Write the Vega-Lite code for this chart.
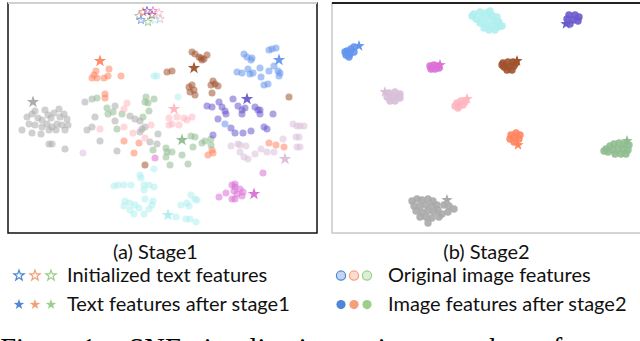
{
"$schema": "https://vega.github.io/schema/vega-lite/v6.json",
"padding": {"left": 0, "top": 1, "right": 0, "bottom": 0},
"background": "white",
"config": {"font": "Lato", "view": {"stroke": "#111", "strokeWidth": 1.5}},
"title": {"text": "Figure 1: t-SNE visualization on image and text features", "orient": "bottom", "anchor": "start", "font": "Liberation Serif", "fontSize": 28.5, "fontWeight": "normal", "color": "#000", "offset": 11, "dx": -6},
"datasets": {
"a": [
{"x":25,"y":115,"c":"gray","k":"img"},{"x":30,"y":112,"c":"gray","k":"img"},{"x":33,"y":109,"c":"gray","k":"img"},{"x":36,"y":116,"c":"gray","k":"img"},{"x":40,"y":118,"c":"gray","k":"img"},{"x":43,"y":108,"c":"gray","k":"img"},{"x":46,"y":113,"c":"gray","k":"img"},{"x":49,"y":116,"c":"gray","k":"img"},{"x":52,"y":111,"c":"gray","k":"img"},{"x":57,"y":107,"c":"gray","k":"img"},{"x":58,"y":115,"c":"gray","k":"img"},{"x":62,"y":112,"c":"gray","k":"img"},{"x":65,"y":117,"c":"gray","k":"img"},{"x":27,"y":122,"c":"gray","k":"img"},{"x":33,"y":123,"c":"gray","k":"img"},{"x":40,"y":125,"c":"gray","k":"img"},{"x":45,"y":122,"c":"gray","k":"img"},{"x":50,"y":125,"c":"gray","k":"img"},{"x":55,"y":122,"c":"gray","k":"img"},{"x":60,"y":123,"c":"gray","k":"img"},{"x":66,"y":123,"c":"gray","k":"img"},{"x":20,"y":128,"c":"gray","k":"img"},{"x":30,"y":131,"c":"gray","k":"img"},{"x":39,"y":132,"c":"gray","k":"img"},{"x":47,"y":128,"c":"gray","k":"img"},{"x":54,"y":128,"c":"gray","k":"img"},{"x":63,"y":128,"c":"gray","k":"img"},{"x":47,"y":142,"c":"gray","k":"img"},{"x":50,"y":142,"c":"gray","k":"img"},{"x":63,"y":147,"c":"gray","k":"img"},{"x":83,"y":100,"c":"gray","k":"img"},{"x":90,"y":97,"c":"gray","k":"img"},{"x":113,"y":104,"c":"gray","k":"img"},{"x":93,"y":115,"c":"gray","k":"img"},{"x":90,"y":125,"c":"gray","k":"img"},{"x":85,"y":128,"c":"gray","k":"img"},{"x":98,"y":139,"c":"gray","k":"img"},{"x":115,"y":149,"c":"gray","k":"img"},{"x":113,"y":119,"c":"gray","k":"img"},{"x":128,"y":114,"c":"gray","k":"img"},{"x":133,"y":117,"c":"gray","k":"img"},{"x":138,"y":119,"c":"gray","k":"img"},{"x":140,"y":127,"c":"gray","k":"img"},{"x":143,"y":125,"c":"gray","k":"img"},{"x":148,"y":140,"c":"gray","k":"img"},{"x":155,"y":142,"c":"gray","k":"img"},{"x":156,"y":132,"c":"gray","k":"img"},{"x":138,"y":130,"c":"gray","k":"img"},
{"x":107,"y":67,"c":"coral","k":"img"},{"x":94,"y":69,"c":"coral","k":"img"},{"x":92,"y":73,"c":"coral","k":"img"},{"x":90,"y":76,"c":"coral","k":"img"},{"x":95,"y":76,"c":"coral","k":"img"},{"x":102,"y":76,"c":"coral","k":"img"},{"x":106,"y":74,"c":"coral","k":"img"},{"x":119,"y":74,"c":"coral","k":"img"},{"x":103,"y":92,"c":"coral","k":"img"},{"x":103,"y":96,"c":"coral","k":"img"},{"x":122,"y":139,"c":"coral","k":"img"},{"x":137,"y":141,"c":"coral","k":"img"},{"x":132,"y":151,"c":"coral","k":"img"},{"x":206,"y":153,"c":"coral","k":"img"},{"x":211,"y":151,"c":"coral","k":"img"},{"x":210,"y":148,"c":"coral","k":"img"},{"x":267,"y":141,"c":"coral","k":"img"},{"x":274,"y":143,"c":"coral","k":"img"},{"x":282,"y":145,"c":"coral","k":"img"},
{"x":95,"y":96,"c":"green","k":"img"},{"x":105,"y":106,"c":"green","k":"img"},{"x":106,"y":112,"c":"green","k":"img"},{"x":111,"y":110,"c":"green","k":"img"},{"x":120,"y":112,"c":"green","k":"img"},{"x":144,"y":95,"c":"green","k":"img"},{"x":146,"y":101,"c":"green","k":"img"},{"x":152,"y":97,"c":"green","k":"img"},{"x":143,"y":100,"c":"green","k":"img"},{"x":147,"y":109,"c":"green","k":"img"},{"x":141,"y":115,"c":"green","k":"img"},{"x":115,"y":127,"c":"green","k":"img"},{"x":151,"y":148,"c":"green","k":"img"},{"x":189,"y":134,"c":"green","k":"img"},{"x":193,"y":135,"c":"green","k":"img"},{"x":191,"y":145,"c":"green","k":"img"},{"x":186,"y":162,"c":"green","k":"img"},{"x":180,"y":153,"c":"green","k":"img"},{"x":168,"y":163,"c":"green","k":"img"},{"x":164,"y":146,"c":"green","k":"img"},{"x":165,"y":150,"c":"green","k":"img"},{"x":170,"y":150,"c":"green","k":"img"},{"x":164,"y":155,"c":"green","k":"img"},{"x":200,"y":141,"c":"green","k":"img"},{"x":203,"y":139,"c":"green","k":"img"},{"x":209,"y":137,"c":"green","k":"img"},{"x":209,"y":143,"c":"green","k":"img"},
{"x":190,"y":50,"c":"sienna","k":"img"},{"x":193,"y":52,"c":"sienna","k":"img"},{"x":197,"y":55,"c":"sienna","k":"img"},{"x":202,"y":57,"c":"sienna","k":"img"},{"x":200,"y":58,"c":"sienna","k":"img"},{"x":205,"y":53,"c":"sienna","k":"img"},{"x":199,"y":56,"c":"sienna","k":"img"},{"x":165,"y":70,"c":"sienna","k":"img"},{"x":170,"y":69,"c":"sienna","k":"img"},{"x":187,"y":85,"c":"sienna","k":"img"},{"x":190,"y":83,"c":"sienna","k":"img"},{"x":192,"y":88,"c":"sienna","k":"img"},{"x":193,"y":93,"c":"sienna","k":"img"},{"x":188,"y":90,"c":"sienna","k":"img"},{"x":210,"y":91,"c":"sienna","k":"img"},{"x":211,"y":79,"c":"sienna","k":"img"},{"x":213,"y":82,"c":"sienna","k":"img"},{"x":216,"y":84,"c":"sienna","k":"img"},{"x":209,"y":83,"c":"sienna","k":"img"},{"x":287,"y":95,"c":"sienna","k":"img"},{"x":143,"y":163,"c":"sienna","k":"img"},
{"x":125,"y":101,"c":"pink","k":"img"},{"x":122,"y":107,"c":"pink","k":"img"},{"x":98,"y":127,"c":"pink","k":"img"},{"x":122,"y":125,"c":"pink","k":"img"},{"x":131,"y":131,"c":"pink","k":"img"},{"x":149,"y":123,"c":"pink","k":"img"},{"x":143,"y":136,"c":"pink","k":"img"},{"x":167,"y":116,"c":"pink","k":"img"},{"x":167,"y":123,"c":"pink","k":"img"},{"x":170,"y":122,"c":"pink","k":"img"},{"x":177,"y":123,"c":"pink","k":"img"},{"x":175,"y":115,"c":"pink","k":"img"},{"x":182,"y":116,"c":"pink","k":"img"},{"x":185,"y":118,"c":"pink","k":"img"},{"x":190,"y":115,"c":"pink","k":"img"},
{"x":152,"y":74,"c":"cyan","k":"img"},{"x":155,"y":74,"c":"cyan","k":"img"},{"x":176,"y":95,"c":"cyan","k":"img"},{"x":152,"y":167,"c":"cyan","k":"img"},{"x":138,"y":173,"c":"cyan","k":"img"},{"x":139,"y":176,"c":"cyan","k":"img"},{"x":112,"y":184,"c":"cyan","k":"img"},{"x":116,"y":183,"c":"cyan","k":"img"},{"x":122,"y":183,"c":"cyan","k":"img"},{"x":129,"y":183,"c":"cyan","k":"img"},{"x":142,"y":183,"c":"cyan","k":"img"},{"x":147,"y":183,"c":"cyan","k":"img"},{"x":152,"y":185,"c":"cyan","k":"img"},{"x":142,"y":188,"c":"cyan","k":"img"},{"x":143,"y":197,"c":"cyan","k":"img"},{"x":123,"y":199,"c":"cyan","k":"img"},{"x":128,"y":201,"c":"cyan","k":"img"},{"x":133,"y":203,"c":"cyan","k":"img"},{"x":122,"y":204,"c":"cyan","k":"img"},{"x":128,"y":208,"c":"cyan","k":"img"},{"x":132,"y":212,"c":"cyan","k":"img"},{"x":137,"y":206,"c":"cyan","k":"img"},{"x":142,"y":212,"c":"cyan","k":"img"},{"x":147,"y":207,"c":"cyan","k":"img"},{"x":151,"y":199,"c":"cyan","k":"img"},{"x":150,"y":203,"c":"cyan","k":"img"},{"x":174,"y":215,"c":"cyan","k":"img"},{"x":179,"y":203,"c":"cyan","k":"img"},{"x":185,"y":201,"c":"cyan","k":"img"},{"x":187,"y":204,"c":"cyan","k":"img"},{"x":189,"y":193,"c":"cyan","k":"img"},{"x":193,"y":197,"c":"cyan","k":"img"},{"x":195,"y":198,"c":"cyan","k":"img"},{"x":184,"y":217,"c":"cyan","k":"img"},{"x":188,"y":217,"c":"cyan","k":"img"},{"x":194,"y":220,"c":"cyan","k":"img"},
{"x":81,"y":151,"c":"thistle","k":"img"},{"x":229,"y":144,"c":"thistle","k":"img"},{"x":236,"y":142,"c":"thistle","k":"img"},{"x":238,"y":143,"c":"thistle","k":"img"},{"x":244,"y":144,"c":"thistle","k":"img"},{"x":238,"y":150,"c":"thistle","k":"img"},{"x":242,"y":155,"c":"thistle","k":"img"},{"x":246,"y":157,"c":"thistle","k":"img"},{"x":253,"y":152,"c":"thistle","k":"img"},{"x":259,"y":147,"c":"thistle","k":"img"},{"x":265,"y":150,"c":"thistle","k":"img"},{"x":272,"y":150,"c":"thistle","k":"img"},{"x":281,"y":137,"c":"thistle","k":"img"},{"x":291,"y":122,"c":"thistle","k":"img"},{"x":295,"y":124,"c":"thistle","k":"img"},{"x":298,"y":124,"c":"thistle","k":"img"},{"x":302,"y":124,"c":"thistle","k":"img"},{"x":294,"y":135,"c":"thistle","k":"img"},{"x":297,"y":135,"c":"thistle","k":"img"},{"x":295,"y":145,"c":"thistle","k":"img"},{"x":298,"y":145,"c":"thistle","k":"img"},
{"x":205,"y":104,"c":"slateblue","k":"img"},{"x":210,"y":105,"c":"slateblue","k":"img"},{"x":217,"y":100,"c":"slateblue","k":"img"},{"x":220,"y":105,"c":"slateblue","k":"img"},{"x":223,"y":109,"c":"slateblue","k":"img"},{"x":231,"y":97,"c":"slateblue","k":"img"},{"x":236,"y":104,"c":"slateblue","k":"img"},{"x":240,"y":108,"c":"slateblue","k":"img"},{"x":243,"y":106,"c":"slateblue","k":"img"},{"x":253,"y":105,"c":"slateblue","k":"img"},{"x":256,"y":108,"c":"slateblue","k":"img"},{"x":258,"y":108,"c":"slateblue","k":"img"},{"x":271,"y":112,"c":"slateblue","k":"img"},{"x":216,"y":117,"c":"slateblue","k":"img"},{"x":229,"y":126,"c":"slateblue","k":"img"},{"x":233,"y":131,"c":"slateblue","k":"img"},{"x":241,"y":131,"c":"slateblue","k":"img"},{"x":249,"y":129,"c":"slateblue","k":"img"},{"x":262,"y":125,"c":"slateblue","k":"img"},{"x":265,"y":127,"c":"slateblue","k":"img"},{"x":211,"y":133,"c":"slateblue","k":"img"},{"x":224,"y":112,"c":"slateblue","k":"img"},{"x":240,"y":112,"c":"slateblue","k":"img"},{"x":258,"y":112,"c":"slateblue","k":"img"},
{"x":242,"y":52,"c":"blue","k":"img"},{"x":245,"y":55,"c":"blue","k":"img"},{"x":250,"y":56,"c":"blue","k":"img"},{"x":249,"y":58,"c":"blue","k":"img"},{"x":267,"y":48,"c":"blue","k":"img"},{"x":270,"y":47,"c":"blue","k":"img"},{"x":274,"y":46,"c":"blue","k":"img"},{"x":235,"y":70,"c":"blue","k":"img"},{"x":240,"y":71,"c":"blue","k":"img"},{"x":246,"y":67,"c":"blue","k":"img"},{"x":248,"y":72,"c":"blue","k":"img"},{"x":251,"y":71,"c":"blue","k":"img"},{"x":258,"y":66,"c":"blue","k":"img"},{"x":259,"y":75,"c":"blue","k":"img"},{"x":262,"y":83,"c":"blue","k":"img"},{"x":266,"y":82,"c":"blue","k":"img"},{"x":267,"y":69,"c":"blue","k":"img"},{"x":272,"y":64,"c":"blue","k":"img"},{"x":276,"y":69,"c":"blue","k":"img"},{"x":277,"y":74,"c":"blue","k":"img"},{"x":278,"y":71,"c":"blue","k":"img"},{"x":223,"y":122,"c":"blue","k":"img"},
{"x":153,"y":156,"c":"orchid","k":"img"},{"x":261,"y":171,"c":"orchid","k":"img"},{"x":230,"y":183,"c":"orchid","k":"img"},{"x":233,"y":185,"c":"orchid","k":"img"},{"x":238,"y":187,"c":"orchid","k":"img"},{"x":232,"y":189,"c":"orchid","k":"img"},{"x":235,"y":192,"c":"orchid","k":"img"},{"x":241,"y":190,"c":"orchid","k":"img"},{"x":224,"y":191,"c":"orchid","k":"img"},{"x":217,"y":195,"c":"orchid","k":"img"},{"x":230,"y":197,"c":"orchid","k":"img"},{"x":233,"y":197,"c":"orchid","k":"img"},{"x":240,"y":194,"c":"orchid","k":"img"},{"x":233,"y":182,"c":"orchid","k":"img"},
{"x":98,"y":59,"c":"coral","k":"txt"},{"x":31,"y":100,"c":"gray","k":"txt"},{"x":192,"y":66,"c":"sienna","k":"txt"},{"x":277,"y":58,"c":"blue","k":"txt"},{"x":245,"y":97,"c":"slateblue","k":"txt"},{"x":172,"y":107,"c":"pink","k":"txt"},{"x":180,"y":138,"c":"green","k":"txt"},{"x":283,"y":157,"c":"thistle","k":"txt"},{"x":252,"y":192,"c":"orchid","k":"txt"},{"x":166,"y":213,"c":"cyan","k":"txt"},
{"x":137,"y":14,"c":"gray","k":"init"},{"x":141,"y":10,"c":"coral","k":"init"},{"x":146,"y":20,"c":"green","k":"init"},{"x":150,"y":13,"c":"sienna","k":"init"},{"x":157,"y":11,"c":"pink","k":"init"},{"x":153,"y":18,"c":"cyan","k":"init"},{"x":158,"y":17,"c":"thistle","k":"init"},{"x":145,"y":9,"c":"slateblue","k":"init"},{"x":139,"y":18,"c":"blue","k":"init"},{"x":151,"y":9,"c":"orchid","k":"init"}
],
"b": [
{"x":472,"y":12,"c":"cyan","k":"img"},{"x":478,"y":10,"c":"cyan","k":"img"},{"x":484,"y":11,"c":"cyan","k":"img"},{"x":490,"y":13,"c":"cyan","k":"img"},{"x":474,"y":17,"c":"cyan","k":"img"},{"x":480,"y":16,"c":"cyan","k":"img"},{"x":486,"y":16,"c":"cyan","k":"img"},{"x":492,"y":18,"c":"cyan","k":"img"},{"x":497,"y":20,"c":"cyan","k":"img"},{"x":478,"y":21,"c":"cyan","k":"img"},{"x":484,"y":22,"c":"cyan","k":"img"},{"x":490,"y":23,"c":"cyan","k":"img"},{"x":496,"y":25,"c":"cyan","k":"img"},{"x":500,"y":24,"c":"cyan","k":"img"},{"x":487,"y":28,"c":"cyan","k":"img"},{"x":493,"y":28,"c":"cyan","k":"img"},{"x":470,"y":14,"c":"cyan","k":"img"},{"x":482,"y":26,"c":"cyan","k":"img"},{"x":488,"y":9,"c":"cyan","k":"img"},{"x":495,"y":15,"c":"cyan","k":"img"},
{"x":567,"y":13,"c":"slateblue","k":"img"},{"x":573,"y":13,"c":"slateblue","k":"img"},{"x":577,"y":15,"c":"slateblue","k":"img"},{"x":565,"y":17,"c":"slateblue","k":"img"},{"x":571,"y":18,"c":"slateblue","k":"img"},{"x":576,"y":19,"c":"slateblue","k":"img"},{"x":568,"y":22,"c":"slateblue","k":"img"},
{"x":345,"y":49,"c":"blue","k":"img"},{"x":349,"y":47,"c":"blue","k":"img"},{"x":352,"y":45,"c":"blue","k":"img"},{"x":344,"y":53,"c":"blue","k":"img"},{"x":348,"y":52,"c":"blue","k":"img"},{"x":352,"y":50,"c":"blue","k":"img"},{"x":347,"y":55,"c":"blue","k":"img"},{"x":343,"y":50,"c":"blue","k":"img"},
{"x":428,"y":64,"c":"orchid","k":"img"},{"x":432,"y":63,"c":"orchid","k":"img"},{"x":436,"y":64,"c":"orchid","k":"img"},{"x":429,"y":67,"c":"orchid","k":"img"},{"x":433,"y":67,"c":"orchid","k":"img"},{"x":437,"y":66,"c":"orchid","k":"img"},
{"x":501,"y":61,"c":"sienna","k":"img"},{"x":506,"y":60,"c":"sienna","k":"img"},{"x":511,"y":60,"c":"sienna","k":"img"},{"x":502,"y":65,"c":"sienna","k":"img"},{"x":507,"y":65,"c":"sienna","k":"img"},{"x":512,"y":64,"c":"sienna","k":"img"},{"x":505,"y":68,"c":"sienna","k":"img"},{"x":510,"y":68,"c":"sienna","k":"img"},{"x":500,"y":63,"c":"sienna","k":"img"},{"x":514,"y":61,"c":"sienna","k":"img"},
{"x":387,"y":91,"c":"thistle","k":"img"},{"x":393,"y":90,"c":"thistle","k":"img"},{"x":398,"y":92,"c":"thistle","k":"img"},{"x":385,"y":95,"c":"thistle","k":"img"},{"x":390,"y":95,"c":"thistle","k":"img"},{"x":396,"y":95,"c":"thistle","k":"img"},{"x":388,"y":99,"c":"thistle","k":"img"},{"x":393,"y":99,"c":"thistle","k":"img"},{"x":398,"y":96,"c":"thistle","k":"img"},
{"x":455,"y":101,"c":"pink","k":"img"},{"x":459,"y":99,"c":"pink","k":"img"},{"x":463,"y":100,"c":"pink","k":"img"},{"x":453,"y":104,"c":"pink","k":"img"},{"x":457,"y":104,"c":"pink","k":"img"},{"x":461,"y":103,"c":"pink","k":"img"},{"x":456,"y":106,"c":"pink","k":"img"},
{"x":509,"y":133,"c":"coral","k":"img"},{"x":514,"y":131,"c":"coral","k":"img"},{"x":518,"y":133,"c":"coral","k":"img"},{"x":508,"y":137,"c":"coral","k":"img"},{"x":513,"y":136,"c":"coral","k":"img"},{"x":517,"y":137,"c":"coral","k":"img"},{"x":512,"y":140,"c":"coral","k":"img"},
{"x":604,"y":147,"c":"green","k":"img"},{"x":608,"y":144,"c":"green","k":"img"},{"x":612,"y":142,"c":"green","k":"img"},{"x":617,"y":141,"c":"green","k":"img"},{"x":622,"y":142,"c":"green","k":"img"},{"x":627,"y":143,"c":"green","k":"img"},{"x":606,"y":150,"c":"green","k":"img"},{"x":611,"y":148,"c":"green","k":"img"},{"x":616,"y":147,"c":"green","k":"img"},{"x":621,"y":147,"c":"green","k":"img"},{"x":626,"y":148,"c":"green","k":"img"},{"x":613,"y":152,"c":"green","k":"img"},{"x":619,"y":152,"c":"green","k":"img"},{"x":624,"y":152,"c":"green","k":"img"},{"x":602,"y":149,"c":"green","k":"img"},
{"x":410,"y":199,"c":"gray","k":"img"},{"x":415,"y":197,"c":"gray","k":"img"},{"x":420,"y":198,"c":"gray","k":"img"},{"x":426,"y":197,"c":"gray","k":"img"},{"x":431,"y":199,"c":"gray","k":"img"},{"x":412,"y":204,"c":"gray","k":"img"},{"x":418,"y":204,"c":"gray","k":"img"},{"x":424,"y":203,"c":"gray","k":"img"},{"x":430,"y":204,"c":"gray","k":"img"},{"x":435,"y":203,"c":"gray","k":"img"},{"x":414,"y":209,"c":"gray","k":"img"},{"x":420,"y":210,"c":"gray","k":"img"},{"x":426,"y":209,"c":"gray","k":"img"},{"x":432,"y":210,"c":"gray","k":"img"},{"x":418,"y":215,"c":"gray","k":"img"},{"x":424,"y":215,"c":"gray","k":"img"},{"x":430,"y":216,"c":"gray","k":"img"},{"x":426,"y":221,"c":"gray","k":"img"},{"x":436,"y":208,"c":"gray","k":"img"},{"x":442,"y":203,"c":"gray","k":"img"},{"x":447,"y":204,"c":"gray","k":"img"},{"x":452,"y":207,"c":"gray","k":"img"},{"x":446,"y":210,"c":"gray","k":"img"},{"x":440,"y":212,"c":"gray","k":"img"},{"x":437,"y":215,"c":"gray","k":"img"},
{"x":498,"y":23,"c":"cyan","k":"txt"},{"x":564,"y":22,"c":"slateblue","k":"txt"},{"x":357,"y":44,"c":"blue","k":"txt"},{"x":438,"y":63,"c":"orchid","k":"txt"},{"x":515,"y":59,"c":"sienna","k":"txt"},{"x":383,"y":90,"c":"thistle","k":"txt"},{"x":465,"y":97,"c":"pink","k":"txt"},{"x":516,"y":143,"c":"coral","k":"txt"},{"x":625,"y":139,"c":"green","k":"txt"},{"x":445,"y":198,"c":"gray","k":"txt"}
],
"la": [
{"i":0,"r":1,"c":"b"},{"i":1,"r":1,"c":"o"},{"i":2,"r":1,"c":"g"},
{"i":0,"r":2,"c":"b"},{"i":1,"r":2,"c":"o"},{"i":2,"r":2,"c":"g"},
{"i":2,"r":1,"t":"Initialized text features"},{"i":2,"r":2,"t":"Text features after stage1"}
],
"lb": [
{"i":0,"r":1,"c":"b"},{"i":1,"r":1,"c":"o"},{"i":2,"r":1,"c":"g"},
{"i":0,"r":2,"c":"b"},{"i":1,"r":2,"c":"o"},{"i":2,"r":2,"c":"g"},
{"i":2,"r":1,"t":"Original image features"},{"i":2,"r":2,"t":"Image features after stage2"}
]
},
"spacing": 11,
"resolve": {"scale": {"x": "independent", "y": "independent", "color": "independent", "stroke": "independent"}},
"hconcat": [
{
"spacing": 1,
"resolve": {"scale": {"x": "independent", "y": "independent", "color": "independent", "stroke": "independent"}},
"vconcat": [
{
"width": 309, "height": 230,
"title": {"text": "(a) Stage1", "orient": "bottom", "fontSize": 20, "fontWeight": "normal", "font": "Lato", "color": "#111", "offset": 10, "dx": -7},
"data": {"name": "a"},
"encoding": {
"x": {"field": "x", "type": "quantitative", "scale": {"domain": [6, 315], "nice": false, "zero": false}, "axis": null},
"y": {"field": "y", "type": "quantitative", "scale": {"domain": [1, 231], "nice": false, "zero": false, "reverse": true}, "axis": null},
"color": {"field": "c", "type": "nominal", "legend": null, "scale": {"domain": ["gray","coral","green","sienna","pink","cyan","thistle","slateblue","blue","orchid"], "range": ["#a9a9a9","#ff8560","#8fbc8f","#a0522d","#ffb6c1","#afeeee","#d8bfd8","#6a5acd","#6495ed","#da70d6"]}}
},
"layer": [
{"transform": [{"filter": "datum.k === 'img'"}], "mark": {"type": "circle", "size": 50, "opacity": 0.55}},
{"transform": [{"filter": "datum.k === 'txt'"}], "mark": {"type": "point", "shape": "M0,-1L0.235,-0.324L0.951,-0.309L0.38,0.124L0.588,0.809L0,0.4L-0.588,0.809L-0.38,0.124L-0.951,-0.309L-0.235,-0.324Z", "filled": true, "size": 170, "opacity": 0.95}},
{"transform": [{"filter": "datum.k === 'init'"}], "mark": {"type": "point", "shape": "M0,-1L0.235,-0.324L0.951,-0.309L0.38,0.124L0.588,0.809L0,0.4L-0.588,0.809L-0.38,0.124L-0.951,-0.309L-0.235,-0.324Z", "filled": false, "size": 80, "strokeWidth": 0.9, "opacity": 0.9}},
{"mark": {"type": "rule", "color": "#d0d0d0", "strokeWidth": 2}, "encoding": {"y": {"datum": 1}, "x": null, "color": null}}
]
},
{
"width": 309, "height": 58,
"view": {"stroke": null},
"data": {"name": "la"},
"encoding": {
"x": {"field": "i", "type": "quantitative", "scale": {"domain": [-0.6875, 18.625], "nice": false, "zero": false}, "axis": null},
"y": {"field": "r", "type": "quantitative", "scale": {"domain": [0.67, 2.67], "nice": false, "zero": false, "reverse": true}, "axis": null}
},
"layer": [
{"transform": [{"filter": "datum.r === 1 && datum.c"}], "mark": {"type": "point", "shape": "M0,-1L0.235,-0.324L0.951,-0.309L0.38,0.124L0.588,0.809L0,0.4L-0.588,0.809L-0.38,0.124L-0.951,-0.309L-0.235,-0.324Z", "filled": false, "size": 120, "strokeWidth": 1.2, "opacity": 1},
 "encoding": {"color": {"field": "c", "type": "nominal", "legend": null, "scale": {"domain": ["b","o","g"], "range": ["#4f86d6","#f4a07a","#9ccf8a"]}}}},
{"transform": [{"filter": "datum.r === 2 && datum.c"}], "mark": {"type": "point", "shape": "M0,-1L0.235,-0.324L0.951,-0.309L0.38,0.124L0.588,0.809L0,0.4L-0.588,0.809L-0.38,0.124L-0.951,-0.309L-0.235,-0.324Z", "filled": true, "size": 120, "opacity": 1},
 "encoding": {"color": {"field": "c", "type": "nominal", "legend": null, "scale": {"domain": ["b","o","g"], "range": ["#4f86d6","#f4a07a","#9ccf8a"]}}}},
{"transform": [{"filter": "datum.t"}], "mark": {"type": "text", "align": "left", "baseline": "middle", "dx": 16, "fontSize": 20, "font": "Lato", "color": "#111"}, "encoding": {"text": {"field": "t"}}}
]
}
]
},
{
"spacing": 1,
"resolve": {"scale": {"x": "independent", "y": "independent", "color": "independent", "stroke": "independent"}},
"vconcat": [
{
"width": 309, "height": 230,
"view": {"stroke": "#c8c8c8", "strokeWidth": 1.5},
"title": {"text": "(b) Stage2", "orient": "bottom", "fontSize": 20, "fontWeight": "normal", "font": "Lato", "color": "#111", "offset": 10},
"data": {"name": "b"},
"encoding": {
"x": {"field": "x", "type": "quantitative", "scale": {"domain": [330, 639], "nice": false, "zero": false}, "axis": null},
"y": {"field": "y", "type": "quantitative", "scale": {"domain": [1, 231], "nice": false, "zero": false, "reverse": true}, "axis": null},
"color": {"field": "c", "type": "nominal", "legend": null, "scale": {"domain": ["gray","coral","green","sienna","pink","cyan","thistle","slateblue","blue","orchid"], "range": ["#a9a9a9","#ff8560","#8fbc8f","#a0522d","#ffb6c1","#afeeee","#d8bfd8","#6a5acd","#6495ed","#da70d6"]}}
},
"layer": [
{"transform": [{"filter": "datum.k === 'img'"}], "mark": {"type": "circle", "size": 55, "opacity": 0.9}},
{"transform": [{"filter": "datum.k === 'txt'"}], "mark": {"type": "point", "shape": "M0,-1L0.235,-0.324L0.951,-0.309L0.38,0.124L0.588,0.809L0,0.4L-0.588,0.809L-0.38,0.124L-0.951,-0.309L-0.235,-0.324Z", "filled": true, "size": 140, "opacity": 1}},
{"mark": {"type": "rule", "color": "#222", "strokeWidth": 2}, "encoding": {"y": {"datum": 1}, "x": null, "color": null}}
]
},
{
"width": 309, "height": 58,
"view": {"stroke": null},
"data": {"name": "lb"},
"encoding": {
"x": {"field": "i", "type": "quantitative", "scale": {"domain": [-0.6923, 23.077], "nice": false, "zero": false}, "axis": null},
"y": {"field": "r", "type": "quantitative", "scale": {"domain": [0.67, 2.67], "nice": false, "zero": false, "reverse": true}, "axis": null}
},
"layer": [
{"transform": [{"filter": "datum.r === 1 && datum.c"}], "mark": {"type": "point", "shape": "circle", "filled": true, "size": 85, "strokeWidth": 1.2, "fillOpacity": 0.35, "strokeOpacity": 1},
 "encoding": {"color": {"field": "c", "type": "nominal", "legend": null, "scale": {"domain": ["b","o","g"], "range": ["#4f86d6","#f4a07a","#9ccf8a"]}},
  "stroke": {"field": "c", "type": "nominal", "legend": null, "scale": {"domain": ["b","o","g"], "range": ["#4f86d6","#f4a07a","#9ccf8a"]}}}},
{"transform": [{"filter": "datum.r === 2 && datum.c"}], "mark": {"type": "point", "shape": "circle", "filled": true, "size": 85, "opacity": 1},
 "encoding": {"color": {"field": "c", "type": "nominal", "legend": null, "scale": {"domain": ["b","o","g"], "range": ["#4f86d6","#f4a07a","#9ccf8a"]}}}},
{"transform": [{"filter": "datum.t"}], "mark": {"type": "text", "align": "left", "baseline": "middle", "dx": 21, "fontSize": 20, "font": "Lato", "color": "#111"}, "encoding": {"text": {"field": "t"}}}
]
}
]
}
]
}
